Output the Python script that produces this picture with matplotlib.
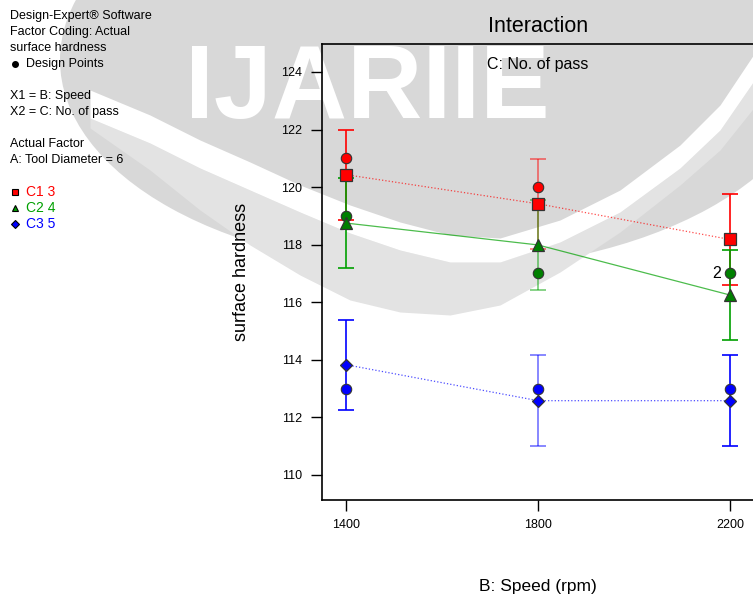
import matplotlib.pyplot as plt
from matplotlib.lines import Line2D
from matplotlib.patches import Ellipse

plt.rcParams['font.family'] = ['Liberation Sans', 'DejaVu Sans']

# predicted means and 95% CI bars for each level of C: No. of pass
speed = [1400, 1800, 2200]
c1_mean = [120.43, 119.42, 118.18]
c1_low = [118.85, 117.84, 116.6]
c1_high = [122.0, 120.98, 119.75]
c2_mean = [118.75, 117.99, 116.25]
c2_low = [117.18, 116.43, 114.68]
c2_high = [120.32, 119.56, 117.82]
c3_mean = [113.83, 112.58, 112.58]
c3_low = [112.25, 111.0, 111.0]
c3_high = [115.4, 114.16, 114.16]

# design points (actual observations)
red_pts_x = [1400, 1800]
red_pts_y = [121, 120]
green_pts_x = [1400, 1800, 2200]
green_pts_y = [119, 117, 117]
blue_pts_x = [1400, 1800, 2200]
blue_pts_y = [113, 113, 113]

yticks = [110, 112, 114, 116, 118, 120, 122, 124]

RED = '#ff0000'
GREEN = '#00a000'
DGREEN = '#008000'
BLUE = '#0000ff'

fig = plt.figure(figsize=(7.53, 6), dpi=100)

# faint watermark logo behind the chart (pixel coords, y pointing down)
bg = fig.add_axes([0, 0, 1, 1], zorder=-1)
bg.set_xlim(0, 753)
bg.set_ylim(600, 0)
bg.axis('off')
bg.add_patch(Ellipse((440, 60), 760, 420, color='#d8d8d8', lw=0))
wm_x = [90, 150, 200, 250, 300, 350, 400, 450, 500, 560, 620, 680, 720, 760]
wm_top = [90, 115, 140, 162, 185, 205, 222, 235, 238, 220, 190, 145, 105, 45]
wm_mid = [118, 143, 168, 190, 212, 233, 250, 262, 262, 242, 212, 168, 130, 72]
wm_bot = [128, 170, 210, 245, 275, 300, 312, 315, 305, 272, 232, 185, 150, 100]
bg.fill_between(wm_x, wm_mid, wm_bot, color='#e3e3e3', lw=0)
bg.fill_between(wm_x, wm_top, wm_mid, color='white', lw=0)
bg.text(367, 118, 'IJARIIE', fontsize=75, fontweight='bold', color='white',
        ha='center', va='baseline')

ax = fig.add_axes([322 / 753, 100 / 600, 432 / 753, 456 / 600])
ax.patch.set_alpha(0)

series = [
    (c1_mean, c1_low, c1_high, RED, ':'),
    (c2_mean, c2_low, c2_high, GREEN, '-'),
    (c3_mean, c3_low, c3_high, BLUE, ':'),
]

for mean, lo, hi, col, ls in series:
    ax.plot(speed, mean, color=col, lw=0.9, ls=ls, alpha=0.7, zorder=2)
    for i, x in enumerate(speed):
        a = 0.55 if x == 1800 else 1.0
        ax.errorbar([x], [mean[i]], yerr=[[mean[i] - lo[i]], [hi[i] - mean[i]]],
                    fmt='none', ecolor=col, elinewidth=1.2, capsize=6,
                    capthick=1.2, alpha=a, zorder=3)

ax.plot(red_pts_x, red_pts_y, 'o', color=RED, mec='#333333', mew=0.8, ms=7.5, zorder=5)
ax.plot(green_pts_x, green_pts_y, 'o', color=DGREEN, mec='#333333', mew=0.8, ms=7.5, zorder=5)
ax.plot(blue_pts_x, blue_pts_y, 'o', color=BLUE, mec='#333333', mew=0.8, ms=7.5, zorder=5)

ax.plot(speed, c1_mean, 's', color=RED, mec='#333333', mew=0.9, ms=8.5, zorder=6)
ax.plot(speed, c2_mean, '^', color=DGREEN, mec='#333333', mew=0.9, ms=8.5, zorder=6)
ax.plot(speed, c3_mean, 'D', color=BLUE, mec='#333333', mew=0.9, ms=6.5, zorder=6)

ax.text(2200 - 27, 117, '2', fontsize=11.5, ha='center', va='center')

ax.set_xlim(1350, 2250)
ax.set_ylim(109.13, 124.97)
ax.set_xticks(speed)
ax.set_yticks(yticks)
ax.tick_params(direction='out', length=8, width=1, labelsize=9, pad=6)
ax.spines['right'].set_visible(False)
for s in ['left', 'bottom', 'top']:
    ax.spines[s].set_linewidth(1.2)

fig.text(538 / 753, 1 - 587 / 600, 'B: Speed (rpm)', fontsize=12.5, ha='center', va='center')
fig.text(242 / 753, 1 - 272 / 600, 'surface hardness', fontsize=13, rotation=90,
         ha='center', va='center')
fig.text(538 / 753, 1 - 27 / 600, 'Interaction', fontsize=15.5, ha='center', va='center')
ax.text(0.5, 0.955, 'C: No. of pass', transform=ax.transAxes, fontsize=11.5,
        ha='center', va='center')

# side information panel
lines = [
    (16, 'Design-Expert® Software'),
    (32, 'Factor Coding: Actual'),
    (48, 'surface hardness'),
    (96, 'X1 = B: Speed'),
    (112, 'X2 = C: No. of pass'),
    (144, 'Actual Factor'),
    (160, 'A: Tool Diameter = 6'),
]
for yp, t in lines:
    fig.text(10 / 753, 1 - yp / 600, t, fontsize=9, ha='left', va='center')
fig.text(26 / 753, 1 - 64 / 600, 'Design Points', fontsize=9, ha='left', va='center')
fig.add_artist(Line2D([15 / 753], [1 - 64 / 600], marker='o', color='black', ms=4,
                      transform=fig.transFigure))

legend_items = [(192, 'C1 3', RED, 's', 4.5), (208, 'C2 4', GREEN, '^', 5), (224, 'C3 5', BLUE, 'D', 3.8)]
for yp, t, col, mk, ms in legend_items:
    fig.add_artist(Line2D([15 / 753], [1 - yp / 600], marker=mk, color=col, mec='black',
                          mew=0.8, ms=ms, transform=fig.transFigure))
    fig.text(26 / 753, 1 - yp / 600, t, fontsize=10, color=col, ha='left', va='center')

fig.savefig('out.png', dpi=100)
